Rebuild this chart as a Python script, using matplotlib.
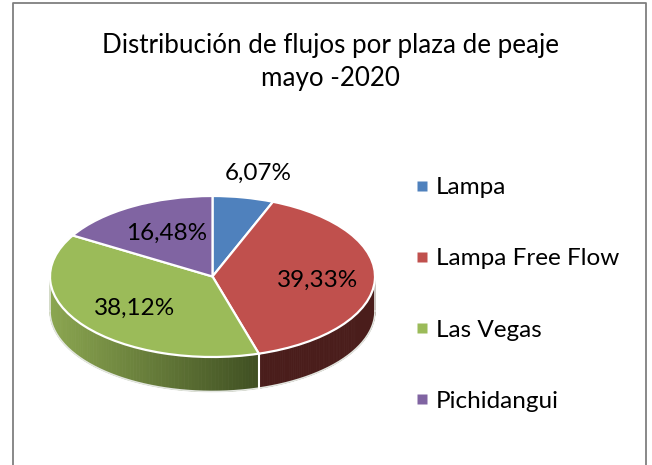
import numpy as np
import matplotlib
matplotlib.use("Agg")
import matplotlib.pyplot as plt
from matplotlib.lines import Line2D
from matplotlib.patches import Polygon
from matplotlib.colors import to_rgb

title = "Distribución de flujos por plaza de peaje\nmayo -2020"
categories = ["Lampa", "Lampa Free Flow", "Las Vegas", "Pichidangui"]
values = [6.07, 39.33, 38.12, 16.48]
value_labels = ["6,07%", "39,33%", "38,12%", "16,48%"]
colors = ["#4f81bd", "#c0504d", "#9bbb59", "#8064a2"]
wall_left = {1: "#4a1d1b", 2: "#8ba650"}
wall_right = {1: "#4a1d1b", 2: "#3f4f22"}

W, H = 652, 465
CX, CY, RX, RY, DEPTH = 212.5, 276.5, 162.5, 80.5, 34.5
FONT = "Lato"

fig = plt.figure(figsize=(W / 100, H / 100), dpi=100, facecolor="white")
ax = fig.add_axes([0, 0, 1, 1])

# Axes units: the pie has radius 1 and is squashed into an ellipse by the limits
xlim = (-CX / RX, (W - CX) / RX)
ylim = ((CY - H) / RY, CY / RY)

d = DEPTH / RY
# Side wall, visible on the front half of the ellipse
bounds = np.concatenate([[0], np.cumsum(values)]) / np.sum(values) * 360
for i in (1, 2):
    a0, a1 = max(bounds[i], 90), min(bounds[i + 1], 270)
    if a1 <= a0:
        continue
    angles = np.linspace(a0, a1, 90)
    x_lo, x_hi = np.sin(np.radians(a1)), np.sin(np.radians(a0))
    cl, cr = np.array(to_rgb(wall_left[i])), np.array(to_rgb(wall_right[i]))
    for t0, t1 in zip(angles[:-1], angles[1:]):
        r0, r1 = np.radians(t0), np.radians(t1)
        xs = [np.sin(r0), np.sin(r1), np.sin(r1), np.sin(r0)]
        ys = [np.cos(r0), np.cos(r1), np.cos(r1) - d, np.cos(r0) - d]
        f = (np.mean(xs) - x_lo) / (x_hi - x_lo)
        col = cl + (cr - cl) * f
        ax.add_patch(Polygon(np.c_[xs, ys], closed=True, fc=col, ec=col, lw=0.6, zorder=1))

# Outline of the wall and the seam between the two visible slices
theta = np.radians(np.linspace(90, 270, 200))
ax.plot(np.sin(theta), np.cos(theta) - d, color="#e3e6e0", lw=1.2, zorder=2)
for s in (-1, 1):
    ax.plot([s, s], [0, -d], color="#e3e6e0", lw=1.2, zorder=2)
seam = np.radians(bounds[2])
ax.plot([np.sin(seam)] * 2, [np.cos(seam), np.cos(seam) - d], color="white", lw=1.5, zorder=2)

wedges, _ = ax.pie(values, colors=colors, startangle=90, counterclock=False, radius=1,
                   wedgeprops=dict(edgecolor="white", linewidth=1.6, zorder=3))
for w in wedges:
    w.set_zorder(3)
ax.set_aspect("auto")
ax.set_xlim(xlim)
ax.set_ylim(ylim)
ax.set_axis_off()
ax.set_position([0, 0, 1, 1])


def px(x, y):
    return (x - CX) / RX, (CY - y) / RY


# Data labels
label_pos = [(258, 173), (318, 280), (135, 308), (167, 233)]
for lab, (x, y) in zip(value_labels, label_pos):
    ax.text(*px(x, y), lab, ha="center", va="center", fontsize=17.5, family=FONT, color="black", zorder=5)

# Title
ax.text(*px(330, 62), title, ha="center", va="center", fontsize=18.7, family=FONT,
        color="black", linespacing=1.36)

# Legend
handles = [Line2D([], [], ls="none", marker="s", ms=7.5, mfc=c, mec="none") for c in colors]
leg = ax.legend(handles, categories, loc="upper left", frameon=False,
                bbox_to_anchor=(414.7 / W, 1 - 177 / H), bbox_transform=fig.transFigure,
                prop=dict(family=FONT, size=17.5), labelspacing=2.07,
                handlelength=0.6, handletextpad=0.28, borderpad=0, borderaxespad=0)

# Chart frame, open at the bottom
ax.plot(*zip(px(13, 465), px(13, 3), px(646, 3), px(646, 465)), color="#7f7f7f", lw=1.3,
        clip_on=False, zorder=6)

fig.savefig("out.png", dpi=100, facecolor="white")
